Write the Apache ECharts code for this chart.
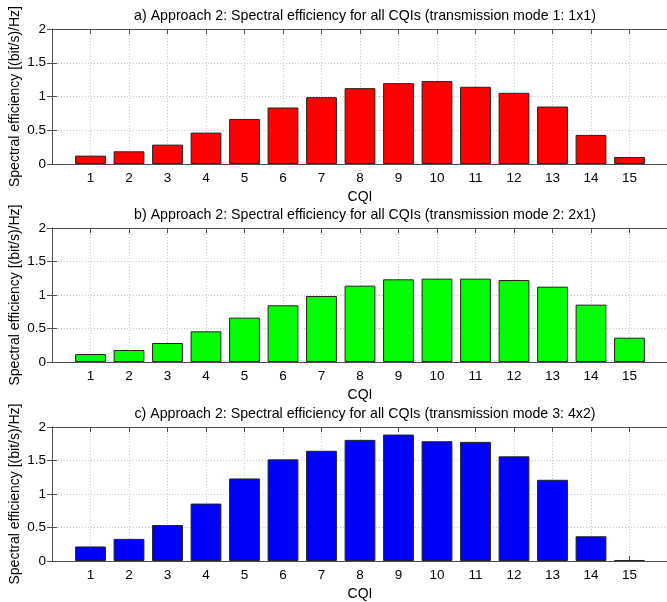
<!DOCTYPE html>
<html>
<head>
<meta charset="utf-8">
<script src="https://cdn.jsdelivr.net/npm/echarts@6/dist/echarts.min.js"></script>
<style>
html,body{margin:0;padding:0;background:#fff;}
#main{width:667px;height:602px;}
</style>
</head>
<body>
<div id="main"></div>
<script>
const cqi = [1,2,3,4,5,6,7,8,9,10,11,12,13,14,15];
const valuesMode1 = [0.124,0.188,0.287,0.465,0.668,0.837,0.99,1.124,1.198,1.228,1.144,1.054,0.851,0.431,0.104];
const valuesMode2 = [0.119,0.179,0.284,0.458,0.662,0.846,0.985,1.139,1.234,1.244,1.244,1.224,1.124,0.856,0.363];
const valuesMode3 = [0.217,0.330,0.537,0.857,1.232,1.517,1.645,1.808,1.887,1.788,1.778,1.562,1.212,0.369,0.015];
const titles = [
  'a) Approach 2: Spectral efficiency for all CQIs (transmission mode 1: 1x1)',
  'b) Approach 2: Spectral efficiency for all CQIs (transmission mode 2: 2x1)',
  'c) Approach 2: Spectral efficiency for all CQIs (transmission mode 3: 4x2)'
];
const colors = ['#ff0000','#00ff00','#0000ff'];
const yTicks = [0, 0.5, 1, 1.5, 2];
const xLabel = 'CQI';
const yLabel = 'Spectral efficiency [(bit/s)/Hz]';

const allValues = [valuesMode1, valuesMode2, valuesMode3];
const gridTops = [29, 228, 427];
const gridHeights = [135, 134, 134];
const titleTops = [4, 203, 402];

const FONT = 'Liberation Sans, Arial, sans-serif';
const axisColor = '#4d4d4d';
const gridLine = {show:true, lineStyle:{color:'#c8c8c8', type:[1,2], width:1}};

const grid = [], xAxis = [], yAxis = [], series = [], title = [];
for (let i = 0; i < 3; i++) {
  grid.push({left:52, right:-1, top:gridTops[i], height:gridHeights[i], containLabel:false, outerBoundsMode:'none'});
  title.push({text:titles[i], left:360, top:titleTops[i], textAlign:'center',
    textStyle:{fontFamily:FONT, fontSize:14.2, fontWeight:'normal', color:'#000'}});
  xAxis.push({type:'value', gridIndex:i, min:0, max:16, interval:1, position:'bottom',
    name:xLabel, nameLocation:'middle', nameGap:26, nameMoveOverlap:false,
    nameTextStyle:{fontFamily:FONT, fontSize:14, color:'#000'},
    axisLine:{show:true, onZero:false, lineStyle:{color:axisColor, width:1}},
    axisTick:{show:true, inside:true, length:5, lineStyle:{color:axisColor}},
    axisLabel:{fontFamily:FONT, fontSize:13.5, color:'#000', margin:7,
      formatter:v => (cqi.indexOf(v) >= 0 ? String(v) : '')},
    splitLine:gridLine});
  xAxis.push({type:'value', gridIndex:i, min:0, max:16, interval:1, position:'top',
    axisLine:{show:true, onZero:false, lineStyle:{color:axisColor, width:1}},
    axisTick:{show:true, inside:true, length:5, lineStyle:{color:axisColor}},
    axisLabel:{show:false}, splitLine:{show:false}});
  yAxis.push({type:'value', gridIndex:i, min:yTicks[0], max:yTicks[yTicks.length-1], interval:0.5,
    position:'left',
    name: yLabel, nameLocation:'middle', nameGap:30, nameRotate:90, nameMoveOverlap:false,
    nameTextStyle:{fontFamily:FONT, fontSize:14, color:'#000'},
    axisLine:{show:true, lineStyle:{color:axisColor, width:1}},
    axisTick:{show:true, inside:true, length:5, lineStyle:{color:axisColor}},
    axisLabel:{fontFamily:FONT, fontSize:13.5, color:'#000', margin:6},
    splitLine:gridLine});
  yAxis.push({type:'value', gridIndex:i, min:0, max:2, interval:0.5, position:'right',
    axisLine:{show:true, lineStyle:{color:axisColor, width:1}},
    axisTick:{show:true, inside:true, length:5, lineStyle:{color:axisColor}},
    axisLabel:{show:false}, splitLine:{show:false}});
  series.push({type:'bar', xAxisIndex:2*i, yAxisIndex:2*i, barWidth:'80%',
    data: cqi.map((c, k) => [c, allValues[i][k]]),
    itemStyle:{color:colors[i], borderColor:'#222', borderWidth:1},
    animation:false});
}

const chart = echarts.init(document.getElementById('main'), null, {renderer:'canvas'});
chart.setOption({animation:false, backgroundColor:'#fff', title, grid, xAxis, yAxis, series});
</script>
</body>
</html>
